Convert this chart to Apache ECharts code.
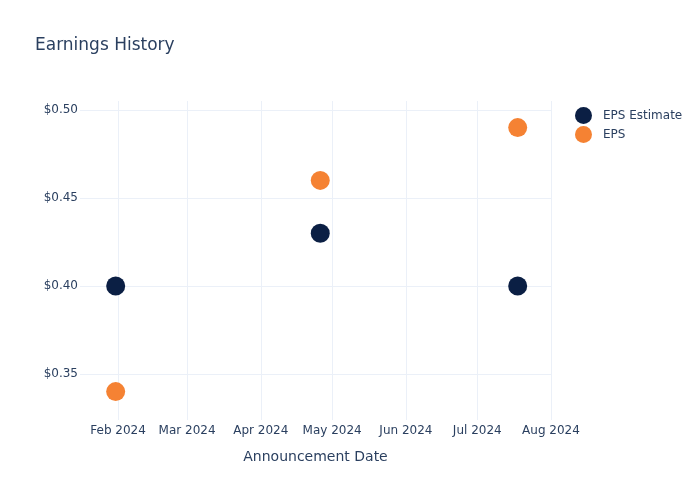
<!DOCTYPE html>
<html>
<head>
<meta charset="utf-8">
<script src="https://cdn.jsdelivr.net/npm/echarts@6/dist/echarts.min.js"></script>
<style>
  html, body { margin: 0; padding: 0; background: #fff; }
  #chart { width: 700px; height: 500px; }
</style>
</head>
<body>
<div id="chart"></div>
<script>
// announcement dates and values
var dates = ['2024-01-31', '2024-04-26', '2024-07-18'];
var epsEstimate = [0.40, 0.43, 0.40];
var epsActual = [0.34, 0.46, 0.49];
var monthTicks = ['2024-02-01', '2024-03-01', '2024-04-01', '2024-05-01', '2024-06-01', '2024-07-01', '2024-08-01'];
var yTicks = [0.35, 0.40, 0.45, 0.50];
var monthNames = ['Jan', 'Feb', 'Mar', 'Apr', 'May', 'Jun', 'Jul', 'Aug', 'Sep', 'Oct', 'Nov', 'Dec'];

function ts(s) {
  var p = s.split('-');
  return Date.UTC(+p[0], +p[1] - 1, +p[2]);
}

function pairs(vals) {
  return dates.map(function (d, i) { return [ts(d), vals[i]]; });
}

var tickTs = monthTicks.map(ts);
var textColor = '#2a3f5f';
var gridColor = '#ebf0f8';

var chart = echarts.init(document.getElementById('chart'), null, { renderer: 'canvas' });

var option = {
  backgroundColor: '#fff',
  textStyle: { fontFamily: 'DejaVu Sans, sans-serif' },
  title: {
    text: 'Earnings History',
    left: 30,
    top: 32,
    textStyle: { fontSize: 17, fontWeight: 'normal', color: textColor }
  },
  legend: {
    orient: 'vertical',
    left: 570,
    top: 102,
    icon: 'circle',
    itemWidth: 17,
    itemHeight: 17,
    itemGap: 2,
    textStyle: { fontSize: 12, color: textColor, padding: [0, 0, 0, 6] },
    data: ['EPS Estimate', 'EPS']
  },
  grid: { left: 80, right: 149, top: 101, bottom: 80 },
  xAxis: {
    type: 'value',
    min: ts('2024-01-16'),
    max: ts('2024-08-01'),
    name: 'Announcement Date',
    nameLocation: 'middle',
    nameGap: 30,
    nameTextStyle: { fontSize: 14, color: textColor },
    axisLine: { show: false },
    axisTick: { show: false, customValues: tickTs },
    axisLabel: {
      customValues: tickTs,
      fontSize: 12,
      color: textColor,
      margin: 5,
      showMinLabel: true,
      showMaxLabel: true,
      formatter: function (v) {
        var d = new Date(v);
        return monthNames[d.getUTCMonth()] + ' ' + d.getUTCFullYear();
      }
    },
    splitLine: { show: true, lineStyle: { color: gridColor, width: 1 } }
  },
  yAxis: {
    type: 'value',
    min: 0.32386,
    max: 0.50511,
    axisLine: { show: false },
    axisTick: { show: false, customValues: yTicks },
    axisLabel: {
      customValues: yTicks,
      fontSize: 12,
      color: textColor,
      margin: 2,
      formatter: function (v) { return '$' + v.toFixed(2); }
    },
    splitLine: { show: true, lineStyle: { color: gridColor, width: 1 } }
  },
  series: [
    {
      name: 'EPS Estimate',
      type: 'scatter',
      symbolSize: 19,
      itemStyle: { color: '#0b1f44', opacity: 1 },
      data: pairs(epsEstimate)
    },
    {
      name: 'EPS',
      type: 'scatter',
      symbolSize: 19,
      itemStyle: { color: '#f58233', opacity: 1 },
      data: pairs(epsActual)
    }
  ]
};

chart.setOption(option);
</script>
</body>
</html>
